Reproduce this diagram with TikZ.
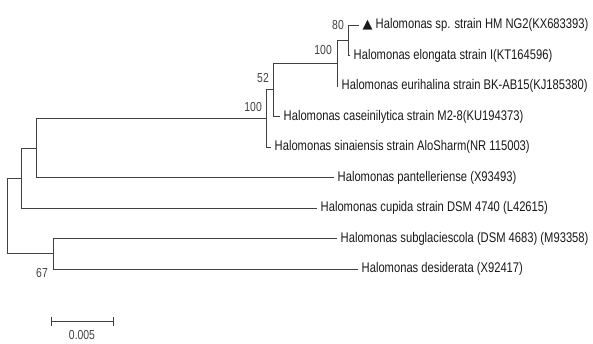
\documentclass[tikz,border=0pt]{standalone}
\usepackage{fontspec}
\setmainfont{Liberation Sans}[FakeStretch=0.8]
\newfontfamily\symfont{DejaVu Sans}
\begin{document}
\begin{tikzpicture}[x=1pt,y=-1pt,
  br/.style={draw=black!75, line width=1pt},
  leaf/.style={anchor=west, inner ysep=0pt, inner xsep=3.5pt, font=\fontsize{14}{14}\selectfont, text=black!90},
  bs/.style={anchor=east, inner sep=0pt, font=\fontsize{13}{13}\selectfont, text=black!75}]
\useasboundingbox (0,0) rectangle (593,343);
% internal nodes
\coordinate (n80) at (348,40.25);
\coordinate (nU) at (337,63.1);
\coordinate (n52) at (273,89.8);
\coordinate (nL) at (266,118.4);
\coordinate (nP) at (36,148);
\coordinate (nC) at (21,178);
\coordinate (nD) at (53,253.75);
\coordinate (root) at (7,215.9);
% leaves
\node[leaf] (hm) at (359,25) {{\symfont\fontsize{13}{13}\selectfont ▲}\hspace{3pt}Halomonas sp. strain HM NG2(KX683393)};
\node[leaf] (el) at (350,55.5) {Halomonas elongata strain I(KT164596)};
\node[leaf] (eu) at (338,86) {Halomonas eurihalina strain BK-AB15(KJ185380)};
\node[leaf] (ca) at (280,116.5) {Halomonas caseinilytica strain M2-8(KU194373)};
\node[leaf] (si) at (271,147) {Halomonas sinaiensis strain AloSharm(NR 115003)};
\node[leaf] (pa) at (334,177.5) {Halomonas pantelleriense (X93493)};
\node[leaf] (cu) at (317,208) {Halomonas cupida strain DSM 4740 (L42615)};
\node[leaf] (su) at (337,238.5) {Halomonas subglaciescola (DSM 4683) (M93358)};
\node[leaf] (de) at (358,269) {Halomonas desiderata (X92417)};
% branches
\draw[br] (n80) |- (hm.west);
\draw[br] (n80) |- (el.west);
\draw[br] (nU) |- (n80);
\draw[br] (nU) |- (eu.west);
\draw[br] (n52) |- (nU);
\draw[br] (n52) |- (ca.west);
\draw[br] (nL) |- (n52);
\draw[br] (nL) |- (si.west);
\draw[br] (nP) |- (nL);
\draw[br] (nP) |- (pa.west);
\draw[br] (nC) |- (nP);
\draw[br] (nC) |- (cu.west);
\draw[br] (nD) |- (su.west);
\draw[br] (nD) |- (de.west);
\draw[br] (root) |- (nC);
\draw[br] (root) |- (nD);
% bootstrap values
\node[bs] (b80) at (344,25) {80};
\node[bs] (b100a) at (332,50) {100};
\node[bs] (b52) at (269,78) {52};
\node[bs] (b100b) at (262,107) {100};
\node[bs] (b67) at (48,273) {67};
% scale bar
\coordinate (sbl) at (51,321);
\coordinate (sbr) at (113,321);
\draw[br] (sbl) -- (sbr);
\draw[br] ([yshift=-4.5pt]sbl) -- ([yshift=4.5pt]sbl);
\draw[br] ([yshift=-4.5pt]sbr) -- ([yshift=4.5pt]sbr);
\node[bs, anchor=center] (sbt) at (82,335.5) {0.005};
\end{tikzpicture}
\end{document}
